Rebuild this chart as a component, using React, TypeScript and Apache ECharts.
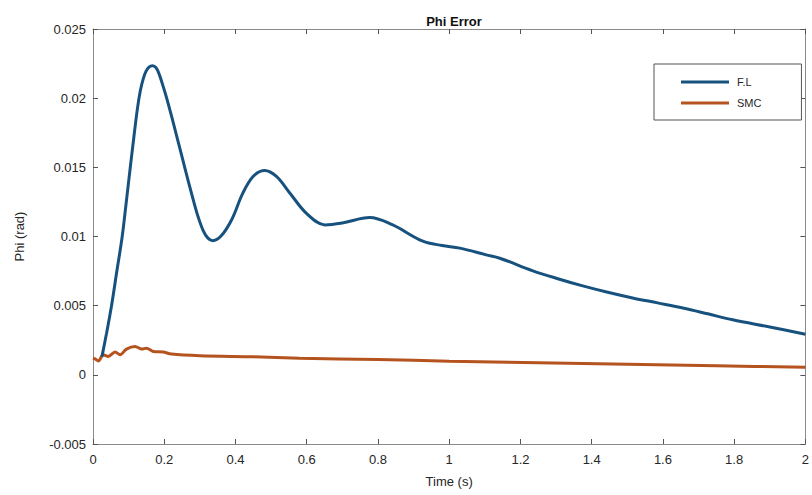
import React, { useEffect, useRef } from "react";
import * as echarts from "echarts";

const flTimes = [0.025, 0.038, 0.052, 0.067, 0.082, 0.093, 0.104, 0.115, 0.125, 0.133, 0.141, 0.149, 0.157, 0.167, 0.177, 0.187, 0.197, 0.208, 0.22, 0.233, 0.246, 0.258, 0.27, 0.283, 0.296, 0.309, 0.322, 0.336, 0.36, 0.39, 0.42, 0.45, 0.482, 0.515, 0.553, 0.6, 0.651, 0.7, 0.777, 0.84, 0.926, 0.98, 1.03, 1.104, 1.142, 1.235, 1.305, 1.375, 1.445, 1.515, 1.585, 1.656, 1.726, 1.796, 1.9, 2.0];
const flValues = [0.0013, 0.003, 0.005, 0.0075, 0.01, 0.0124, 0.01485, 0.01725, 0.0193, 0.02055, 0.0214, 0.02195, 0.02225, 0.02235, 0.0222, 0.02165, 0.02085, 0.0199, 0.01875, 0.01745, 0.01615, 0.01495, 0.01375, 0.0125, 0.01135, 0.01045, 0.0099, 0.0097, 0.01005, 0.01125, 0.0131, 0.01435, 0.01478, 0.01435, 0.01313, 0.01165, 0.01084, 0.01098, 0.01137, 0.01085, 0.00966, 0.00935, 0.00916, 0.00867, 0.00843, 0.00752, 0.00695, 0.00643, 0.00597, 0.00556, 0.0052, 0.00483, 0.00441, 0.00398, 0.00346, 0.00294];

const smcTimes = [0, 0.006, 0.015, 0.029, 0.043, 0.062, 0.076, 0.094, 0.118, 0.137, 0.15, 0.169, 0.197, 0.22, 0.3, 0.45, 0.58, 0.8, 1.0, 1.25, 1.5, 1.75, 2.0];
const smcValues = [0.0012, 0.00115, 0.001, 0.00145, 0.00133, 0.00165, 0.00145, 0.00186, 0.00205, 0.00186, 0.00193, 0.00169, 0.00165, 0.0015, 0.00138, 0.0013, 0.0012, 0.0011, 0.00099, 0.00087, 0.00076, 0.00065, 0.00055];

const xTicks = [0, 0.2, 0.4, 0.6, 0.8, 1, 1.2, 1.4, 1.6, 1.8, 2];
const yTicks = [-0.005, 0, 0.005, 0.01, 0.015, 0.02, 0.025];

const FONT = "'Liberation Sans', Arial, Helvetica, sans-serif";
const AXIS_COLOR = "#8a8a8a";
const TEXT_COLOR = "#262626";

export default function App() {
  const ref = useRef<HTMLDivElement>(null);
  useEffect(() => {
    if (!ref.current) return;
    const chart = echarts.init(ref.current, undefined, { renderer: "svg" });
    const axisCommon = {
      axisLine: { show: true, onZero: false, lineStyle: { color: AXIS_COLOR, width: 1 } },
      axisTick: { show: true, inside: true, length: 5, lineStyle: { color: "#555" } },
      splitLine: { show: false },
    };
    chart.setOption({
      animation: false,
      backgroundColor: "#ffffff",
      title: {
        text: "Phi Error",
        left: 449,
        top: 10,
        textAlign: "center",
        textStyle: { fontFamily: FONT, fontSize: 13, fontWeight: "bold", color: "#111" },
      },
      legend: {
        orient: "vertical",
        left: 654,
        top: 64,
        width: 150,
        padding: [11, 40, 10, 27],
        itemGap: 7,
        itemWidth: 48,
        itemHeight: 3,
        icon: "rect",
        borderColor: "#555",
        borderWidth: 1,
        backgroundColor: "#fff",
        textStyle: { fontFamily: FONT, fontSize: 11, color: TEXT_COLOR, lineHeight: 14, padding: [0, 0, 0, 3] },
        data: ["F.L", "SMC"],
      },
      grid: { left: 93, top: 29, right: 6, bottom: 51, containLabel: false },
      xAxis: [
        {
          type: "value",
          min: 0,
          max: 2,
          interval: 0.2,
          position: "bottom",
          name: "Time (s)",
          nameLocation: "middle",
          nameGap: 31,
          nameTextStyle: { fontFamily: FONT, fontSize: 13, color: TEXT_COLOR },
          axisLabel: {
            fontFamily: FONT,
            fontSize: 13,
            color: TEXT_COLOR,
            margin: 9,
            formatter: (v: number) => {
              const t = xTicks.find((x) => Math.abs(x - v) < 1e-9);
              return t === undefined ? "" : String(t);
            },
          },
          ...axisCommon,
        },
        {
          type: "value",
          min: 0,
          max: 2,
          interval: 0.2,
          position: "top",
          axisLabel: { show: false },
          ...axisCommon,
        },
      ],
      yAxis: [
        {
          type: "value",
          min: -0.005,
          max: 0.025,
          interval: 0.005,
          position: "left",
          name: "Phi (rad)",
          nameLocation: "middle",
          nameGap: 67,
          nameTextStyle: { fontFamily: FONT, fontSize: 13, color: TEXT_COLOR },
          axisLabel: {
            fontFamily: FONT,
            fontSize: 13,
            color: TEXT_COLOR,
            margin: 7,
            formatter: (v: number) => {
              const t = yTicks.find((y) => Math.abs(y - v) < 1e-9);
              return t === undefined ? "" : String(t);
            },
          },
          ...axisCommon,
        },
        {
          type: "value",
          min: -0.005,
          max: 0.025,
          interval: 0.005,
          position: "right",
          axisLabel: { show: false },
          ...axisCommon,
        },
      ],
      series: [
        {
          name: "F.L",
          type: "line",
          data: flTimes.map((t, i) => [t, flValues[i]]),
          smooth: 0.35,
          showSymbol: false,
          symbol: "none",
          lineStyle: { color: "#17527f", width: 3 },
          itemStyle: { color: "#17527f" },
          z: 3,
        },
        {
          name: "SMC",
          type: "line",
          data: smcTimes.map((t, i) => [t, smcValues[i]]),
          smooth: 0.3,
          showSymbol: false,
          symbol: "none",
          lineStyle: { color: "#b5531f", width: 3 },
          itemStyle: { color: "#b5531f" },
          z: 2,
        },
      ],
    });
    return () => chart.dispose();
  }, []);
  return (
    <div
      ref={ref}
      style={{ position: "fixed", left: 0, top: 0, width: 812, height: 495, background: "#fff" }}
    />
  );
}
